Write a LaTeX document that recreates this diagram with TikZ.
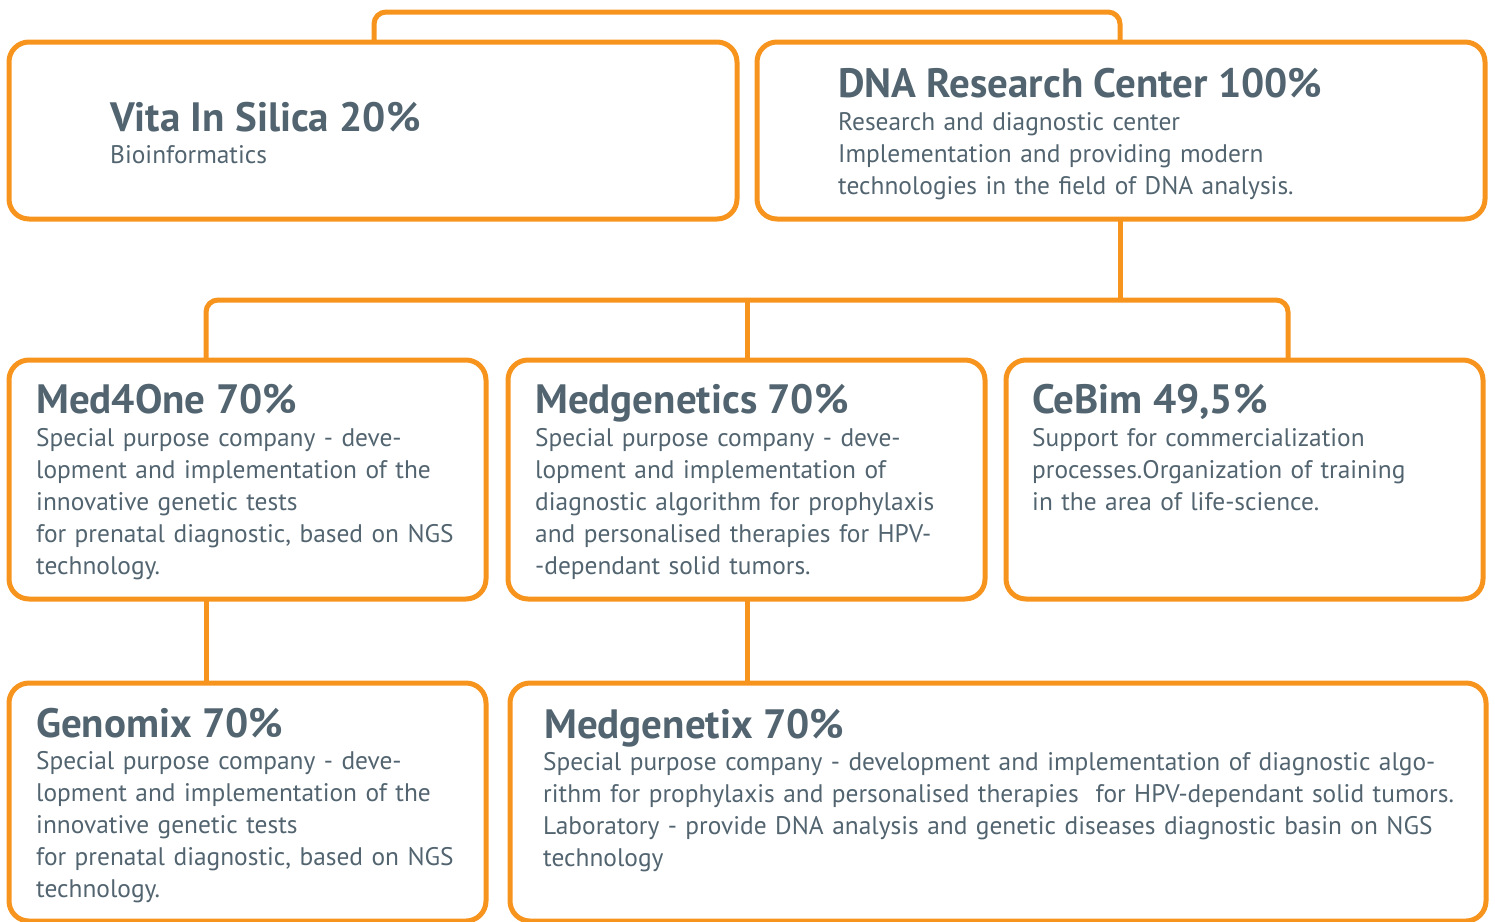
\documentclass[tikz,border=0pt]{standalone}
\usepackage{fontspec}
\setmainfont{PT Sans}
\usepackage{xcolor}
\usetikzlibrary{positioning}
\definecolor{boxorange}{HTML}{F7941D}
\definecolor{textgray}{HTML}{52646F}
\tikzset{
  company/.style={draw=boxorange, line width=5pt, rounded corners=20pt, inner sep=0pt, outer sep=0pt, anchor=north west},
  link/.style={draw=boxorange, line width=5pt, rounded corners=12pt},
  title/.style={text=textgray, font=\fontsize{41}{43}\selectfont\bfseries, inner sep=0pt, anchor=base west},
  info/.style={text=textgray, font=\fontsize{25.4}{32}\selectfont, inner sep=0pt, anchor=base west, text width=#1, align=left},
  info/.default=950pt,
}

\begin{document}
\begin{tikzpicture}[x=1pt,y=-1pt]
\useasboundingbox (0,0) rectangle (1495,921);
% boxes
\node[company, minimum width=728pt, minimum height=177pt] (vita) at (9,42) {};
\node[company, minimum width=728pt, minimum height=177pt] (dna) at (757,42) {};
\node[company, minimum width=477pt, minimum height=239pt] (med) at (9,360) {};
\node[company, minimum width=477pt, minimum height=239pt] (medgs) at (508,360) {};
\node[company, minimum width=477pt, minimum height=239pt] (cebim) at (1006,360) {};
\node[company, minimum width=477pt, minimum height=238pt] (gen) at (9,683) {};
\node[company, minimum width=976pt, minimum height=238pt] (mgx) at (510,683) {};
% links
\coordinate (bar) at (747,300);
\coordinate (drop) at ([xshift=363pt]dna.south west);
\draw[link] ([xshift=365pt]vita.north west) -- ++(0,-30) -| ([xshift=363pt]dna.north west);
\draw[link] (drop) -- (drop |- bar);
\draw[link] ([xshift=197pt]med.north west) -- ++(0,-60) -| ([xshift=282pt]cebim.north west);
\draw[link] (bar) -- (bar |- medgs.north);
\draw[link] ([xshift=197pt]med.south west) -- ([xshift=197pt]gen.north west);
\draw[link] (bar |- medgs.south) -- (bar |- mgx.north);
% texts
\node[title] (vitaT) at (110,131) {Vita In Silica 20\%};
\node[info] (vitaI) at (110,163) {Bioinformatics};
\node[title] (dnaT) at (838,97) {DNA Research Center 100\%};
\node[info] (dnaI) at (838,130) {Research and diagnostic center\\
  Implementation and providing modern\\
  technologies in the field of DNA analysis.};
\node[title] (medT) at (36,413) {Med4One 70\%};
\node[info] (medI) at (36,446) {Special purpose company - deve-\\
  lopment and implementation of the\\
  innovative genetic tests\\
  for prenatal diagnostic, based on NGS\\
  technology.};
\node[title] (medgsT) at (535,413) {Medgenetics 70\%};
\node[info] (medgsI) at (535,446) {Special purpose company - deve-\\
  lopment and implementation of\\
  diagnostic algorithm for prophylaxis\\
  and personalised therapies for HPV-\\
  -dependant solid tumors.};
\node[title] (cebimT) at (1032,413) {CeBim 49,5\%};
\node[info] (cebimI) at (1032,446) {Support for commercialization\\
  processes.Organization of training\\
  in the area of life-science.};
\node[title] (genT) at (36,737) {Genomix 70\%};
\node[info] (genI) at (36,769) {Special purpose company - deve-\\
  lopment and implementation of the\\
  innovative genetic tests\\
  for prenatal diagnostic, based on NGS\\
  technology.};
\node[title] (mgxT) at (544,738) {Medgenetix 70\%};
\node[info] (mgxI) at (543,770) {Special purpose company - development and implementation of diagnostic algo-\\
  rithm for prophylaxis and personalised therapies~ for HPV-dependant solid tumors.\\
  Laboratory - provide DNA analysis and genetic diseases diagnostic basin on NGS\\
  technology};
\end{tikzpicture}
\end{document}
